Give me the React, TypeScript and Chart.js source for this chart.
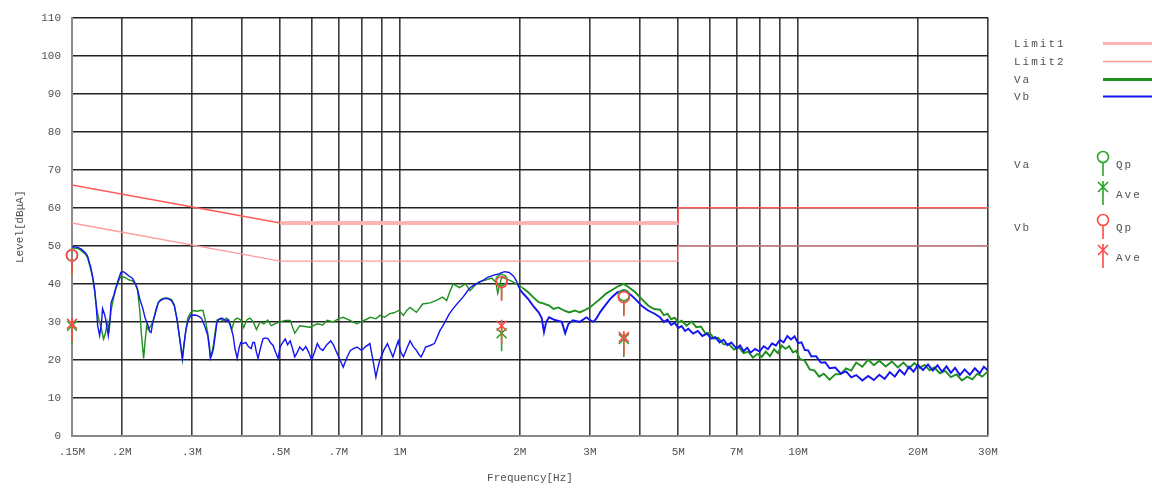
import React, { useEffect, useRef } from 'react';
import { Chart, registerables } from 'chart.js';

Chart.register(...registerables);

// ---------- axis ticks ----------
const xTickValues = [0.15, 0.2, 0.3, 0.4, 0.5, 0.6, 0.7, 0.8, 0.9, 1, 2, 3, 4, 5, 6, 7, 8, 9, 10, 20, 30];
const xTickLabels = ['.15M', '.2M', '.3M', '', '.5M', '', '.7M', '', '', '1M', '2M', '3M', '', '5M', '', '7M', '', '', '10M', '20M', '30M'];
const yMin = 0;
const yMax = 110;
const yStep = 10;

// ---------- limit lines ----------
const limit1Freq = [0.15, 0.5, 5, 5, 30];
const limit1Level = [66, 56, 56, 60, 60];
const limit2Freq = [0.15, 0.5, 5, 5, 30];
const limit2Level = [56, 46, 46, 50, 50];

// ---------- measured traces ----------
const vbFreq = [
  0.15, 0.155, 0.158, 0.162, 0.164, 0.167, 0.169, 0.171, 0.172, 0.174, 0.176, 0.178, 0.179, 0.181, 0.182, 0.184,
  0.185, 0.187, 0.188, 0.191, 0.193, 0.196, 0.199, 0.202, 0.205, 0.209, 0.213, 0.216, 0.219, 0.222, 0.226, 0.229,
  0.233, 0.235, 0.237, 0.239, 0.241, 0.244, 0.247, 0.25, 0.254, 0.258, 0.263, 0.267, 0.271, 0.275, 0.279, 0.282,
  0.284, 0.287, 0.29, 0.293, 0.298, 0.304, 0.309, 0.313, 0.317, 0.323, 0.329, 0.332, 0.334, 0.337, 0.34, 0.344,
  0.347, 0.352, 0.357, 0.363, 0.37, 0.375, 0.381, 0.385, 0.39, 0.394, 0.398, 0.404, 0.41, 0.416, 0.423, 0.427,
  0.431, 0.436, 0.44, 0.446, 0.453, 0.46, 0.466, 0.473, 0.48, 0.487, 0.494, 0.5, 0.508, 0.515, 0.522, 0.53,
  0.537, 0.544, 0.552, 0.56, 0.57, 0.58, 0.59, 0.6, 0.61, 0.62, 0.63, 0.64, 0.655, 0.67, 0.68, 0.69,
  0.7, 0.71, 0.72, 0.735, 0.75, 0.765, 0.78, 0.8, 0.82, 0.84, 0.855, 0.87, 0.88, 0.89, 0.91, 0.93,
  0.945, 0.96, 0.975, 0.99, 1.005, 1.02, 1.04, 1.06, 1.08, 1.1, 1.115, 1.13, 1.145, 1.16, 1.19, 1.22,
  1.24, 1.26, 1.29, 1.33, 1.36, 1.39, 1.44, 1.47, 1.5, 1.54, 1.58, 1.62, 1.66, 1.72, 1.77, 1.83,
  1.88, 1.93, 1.96, 2.0, 2.05, 2.1, 2.16, 2.23, 2.27, 2.3, 2.33, 2.37, 2.45, 2.55, 2.6, 2.65,
  2.72, 2.83, 2.94, 3.0, 3.06, 3.12, 3.18, 3.27, 3.37, 3.45, 3.52, 3.65, 3.73, 3.81, 3.92, 4.04,
  4.2, 4.35,
  4.5, 4.6, 4.7, 4.8, 4.9, 5.0, 5.1, 5.2, 5.3, 5.45, 5.6, 5.75, 5.9, 6.05, 6.2, 6.35,
  6.5, 6.65, 6.8, 7.0, 7.15, 7.3, 7.45, 7.6, 7.8, 8.0, 8.2, 8.4, 8.6, 8.8, 9.0, 9.2,
  9.4, 9.6, 9.8, 10.0, 10.2, 10.4, 10.6, 10.8, 11.1, 11.4, 11.7, 12.0, 12.4, 12.8, 13.2, 13.6,
  14.0, 14.5, 15.0, 15.5, 16.0, 16.5, 17.0, 17.5, 18.0, 18.5, 19.0, 19.5, 20.0, 20.6, 21.2, 21.8,
  22.4, 23.0, 23.6, 24.2, 24.8, 25.5, 26.2, 27.0, 27.8, 28.6, 29.3, 30.0,
];
const vbLevel = [
  49.8, 49.6, 49.2, 48.2, 47.4, 44.5, 42, 38.5, 36, 29, 26.4, 30, 33.5, 32, 31, 28,
  26.4, 31, 35, 37, 38.7, 41, 43, 43.2, 42.7, 42, 41.4, 40.2, 38.7, 36, 33.5, 31,
  29, 27.5, 27.2, 29.5, 31, 33, 35, 35.6, 36, 36.2, 36, 35.5, 34.3, 31, 26.4, 23,
  20.4, 24.6, 28, 30, 31.7, 31.8, 31.7, 31.4, 31, 29, 26.4, 23, 20.4, 21.5, 23, 27,
  30, 30.8, 31, 30.5, 30.4, 29, 26.4, 23, 20.4, 23, 24.6, 24.3, 24.6, 23.5, 23, 24.6,
  24.6, 22, 20.4, 23, 25.6, 25.8, 25.6, 24.5, 23.8, 22, 20.4, 23.5, 24.6, 25.5, 24, 25,
  23, 20.8, 22, 23.4, 22.5, 23.5, 22, 20, 22, 24.3, 23, 22.5, 24, 25, 24, 22.5,
  21, 19.5, 18.1, 20.5, 22.5, 23, 23.4, 22.5, 23.5, 24.3, 20, 15.5, 18, 20, 22.5, 24.3,
  22.5, 20.8, 23, 25, 22, 20.8, 23, 25, 23.5, 22.5, 21.5, 20.8, 22, 23.4, 23.8, 24.3,
  26, 27.7, 29.5, 32.1, 33.5, 34.7, 36.5, 37.8, 39, 39.8, 40.4, 41, 41.7, 42.3, 42.6, 43.2,
  43, 42, 40.8, 38.5, 37.2, 36, 34.2, 32.5, 31, 27.3, 30, 31.2, 30.5, 30, 27, 29.5,
  30.4, 30, 31.2, 30.5, 30, 31, 32.5, 34.2, 36, 37, 37.8, 38.2, 37.8, 37, 35.8, 34.3,
  33, 32.2,
  31.2, 30.0, 30.6, 29.2, 29.8, 28.4, 28.9, 27.6, 28.2, 26.9, 27.6, 26.3, 26.9, 25.6, 26.0, 24.6,
  25.3, 23.9, 24.6, 23.0, 23.8, 22.3, 23.2, 21.9, 22.9, 22.2, 23.6, 22.8, 24.3, 23.8, 25.3, 24.6,
  26.3, 25.4, 26.2, 24.4, 24.6, 22.6, 22.5, 20.9, 21.0, 19.3, 19.4, 17.8, 18.0, 16.4, 17.0, 15.4,
  16.0, 14.6, 15.8, 14.7, 16.1, 15.0, 16.8, 15.6, 17.4, 16.2, 18.2, 16.9, 18.7, 17.3, 18.8, 17.2,
  18.6, 16.9, 18.3, 16.6, 17.9, 16.0, 17.5, 16.1, 17.8, 16.5, 18.2, 17.2,
];

const vaFreq = [
  0.15, 0.155, 0.158, 0.162, 0.164, 0.167, 0.169, 0.171, 0.172, 0.174, 0.176, 0.178, 0.18, 0.182, 0.184, 0.186,
  0.188, 0.191, 0.193, 0.196, 0.199, 0.202, 0.205, 0.209, 0.213, 0.216, 0.219, 0.222, 0.224, 0.227, 0.229, 0.231,
  0.233, 0.237, 0.241, 0.244, 0.247, 0.25, 0.254, 0.258, 0.263, 0.267, 0.271, 0.275, 0.279, 0.282, 0.284, 0.287,
  0.29, 0.293, 0.298, 0.303, 0.309, 0.315, 0.32, 0.325, 0.329, 0.332, 0.334, 0.337, 0.34, 0.344, 0.347, 0.354,
  0.36, 0.366, 0.372, 0.378, 0.384, 0.39, 0.398, 0.405, 0.412, 0.42, 0.428, 0.436, 0.445, 0.455, 0.465, 0.475,
  0.485, 0.5, 0.515, 0.53, 0.544, 0.56, 0.577, 0.594, 0.62, 0.64, 0.656, 0.68, 0.7, 0.72, 0.749, 0.778,
  0.81, 0.843, 0.87, 0.891, 0.915, 0.94, 0.965, 0.993, 1.02, 1.04, 1.06, 1.1, 1.14, 1.19, 1.23, 1.28,
  1.31, 1.335, 1.36, 1.41, 1.46, 1.5, 1.54, 1.58, 1.64, 1.7, 1.74, 1.76, 1.8, 1.85, 1.9, 1.96,
  2.03, 2.1, 2.16, 2.23, 2.3, 2.37, 2.43, 2.5, 2.58, 2.66, 2.75, 2.83, 2.9, 3.0, 3.08, 3.18,
  3.3, 3.45, 3.55, 3.65, 3.77, 3.9, 4.05, 4.2, 4.35,
  4.5, 4.6, 4.7, 4.8, 4.9, 5.0, 5.1, 5.25, 5.4, 5.55, 5.7, 5.85, 6.0, 6.15, 6.3, 6.5,
  6.7, 6.9, 7.1, 7.3, 7.5, 7.7, 7.9, 8.1, 8.3, 8.5, 8.7, 8.9, 9.1, 9.3, 9.5, 9.7,
  9.9, 10.1, 10.4, 10.7, 11.0, 11.3, 11.6, 12.0, 12.4, 12.8, 13.2, 13.6, 14.0, 14.5, 15.0, 15.5,
  16.0, 16.6, 17.2, 17.8, 18.4, 19.0, 19.6, 20.2, 20.8, 21.4, 22.0, 22.7, 23.4, 24.2, 25.0, 25.8,
  26.6, 27.4, 28.2, 29.0, 30.0,
];
const vaLevel = [
  49.5, 49.3, 48.8, 47.8, 47, 44, 41.5, 38, 35.5, 32, 30, 28, 25.5, 27, 30, 28,
  33, 36.5, 38.5, 40.5, 42, 41.8, 41.5, 41, 40.8, 40, 38.5, 33, 27, 20.4, 25, 29,
  28, 29, 31, 33.5, 35, 35.8, 36.2, 36.3, 36.2, 35.8, 34.5, 31, 26.4, 22.5, 20, 24,
  28, 31, 32.5, 33, 32.8, 33, 33, 30, 27, 24, 21, 22, 24, 28, 30.5, 30.8,
  30.2, 31, 30.5, 28, 30.5, 31, 30.5, 28.5, 30.5, 31, 30, 28, 30, 29.5, 30.5, 29,
  29.5, 30, 30.4, 30.4, 27, 29, 28.8, 28.6, 29.5, 29.2, 30.4, 30, 30.8, 31.2, 30.4, 29.5,
  30.3, 31.2, 30.8, 31.7, 31.2, 32.1, 32.4, 33, 31.7, 33, 33.8, 32.5, 34.7, 35, 35.6, 36.5,
  35.6, 38, 40, 39, 40, 38.2, 39.5, 40.5, 41, 41.5, 40.5, 37.5, 41.7, 41.3, 40.8, 40,
  39, 37.8, 36.5, 35.2, 34.8, 34.3, 33.4, 33.8, 33, 32.5, 33, 32.5, 33, 33.8, 34.8, 36,
  37.5, 38.7, 39.5, 40, 39, 37.8, 36, 34.3, 33.4,
  33.2, 31.8, 32.1, 30.7, 31.1, 29.8, 30.3, 29.0, 30.1, 28.6, 28.8, 27.0, 27.1, 25.6, 25.8, 24.1,
  24.2, 22.7, 23.3, 21.8, 22.2, 20.6, 21.6, 20.8, 22.2, 21.0, 22.8, 21.8, 23.8, 22.9, 23.6, 22.0,
  22.4, 20.3, 19.8, 17.5, 17.2, 15.6, 16.4, 14.8, 16.2, 16.3, 17.8, 17.2, 19.3, 18.2, 20.1, 18.6,
  19.8, 18.3, 19.6, 18.0, 19.3, 17.8, 19.2, 17.9, 18.7, 17.3, 18.0, 16.5, 17.1, 15.5, 16.2, 14.6,
  15.6, 14.9, 16.4, 15.6, 17.0,
];

// ---------- final measurement markers ----------
const markerFreq = [0.15, 1.8, 3.65];
const vaQp = [47.5, 41, 37];
const vaAve = [29, 27, 25.5];
const vbQp = [47.5, 40.5, 36.5];
const vbAve = [29.5, 29, 26];

// ---------- legend ----------
const legendLabels = ['Limit1', 'Limit2', 'Va', 'Vb'];
const markerLegendGroups = ['Va', 'Vb'];
const markerLegendKinds = ['Qp', 'Ave'];

const GREEN = '#1f8f1f';
const BLUE = '#1414f0';
const LIMIT1 = '#ff5a5a';
const LIMIT1_FLAT = '#ffb4b4';
const LIMIT2 = '#ff9c9c';
const MK_GREEN = '#2aa52a';
const MK_RED = '#ff4a4a';
const TEXT = '#505050';
const MONO = "'Liberation Mono', 'DejaVu Sans Mono', monospace";

const zip = (fs: number[], ls: number[]) => fs.map((f, i) => ({ x: f, y: ls[i] }));

function drawGlyph(ctx: CanvasRenderingContext2D, kind: string, x: number, y: number, color: string) {
  ctx.save();
  ctx.strokeStyle = color;
  ctx.lineWidth = 1.6;
  ctx.beginPath();
  if (kind === 'Qp') {
    ctx.arc(x, y, 5.5, 0, Math.PI * 2);
    ctx.moveTo(x, y + 5.5);
    ctx.lineTo(x, y + 19);
  } else {
    ctx.moveTo(x - 5, y - 5);
    ctx.lineTo(x + 5, y + 5);
    ctx.moveTo(x + 5, y - 5);
    ctx.lineTo(x - 5, y + 5);
    ctx.moveTo(x, y - 6);
    ctx.lineTo(x, y + 18);
  }
  ctx.stroke();
  ctx.restore();
}

const markerPlugin = {
  id: 'emiMarkers',
  afterDatasetsDraw(chart: any) {
    const { ctx, scales } = chart;
    const sx = scales.x;
    const sy = scales.y;
    const groups = [
      { qp: vaQp, ave: vaAve, color: MK_GREEN },
      { qp: vbQp, ave: vbAve, color: MK_RED },
    ];
    groups.forEach((g) => {
      markerFreq.forEach((f, i) => {
        const px = sx.getPixelForValue(f);
        drawGlyph(ctx, 'Ave', px, sy.getPixelForValue(g.ave[i]), g.color);
        drawGlyph(ctx, 'Qp', px, sy.getPixelForValue(g.qp[i]), g.color);
      });
    });
  },
};

const legendPlugin = {
  id: 'emiLegend',
  afterDraw(chart: any) {
    const ctx: CanvasRenderingContext2D = chart.ctx;
    ctx.save();
    ctx.font = `11px ${MONO}`;
    (ctx as any).letterSpacing = '2px';
    ctx.fillStyle = TEXT;
    ctx.textBaseline = 'middle';
    ctx.textAlign = 'left';
    const rowY = [44, 62, 80, 97];
    const lineStyle = [
      { c: LIMIT1_FLAT, w: 3 },
      { c: LIMIT2, w: 1.5 },
      { c: GREEN, w: 3 },
      { c: BLUE, w: 2 },
    ];
    legendLabels.forEach((lab, i) => {
      ctx.fillText(lab, 1014, rowY[i]);
      ctx.strokeStyle = lineStyle[i].c;
      ctx.lineWidth = lineStyle[i].w;
      ctx.beginPath();
      ctx.moveTo(1103, rowY[i] - 0.5);
      ctx.lineTo(1152, rowY[i] - 0.5);
      ctx.stroke();
    });
    const groupY = [157, 220];
    const colors = [MK_GREEN, MK_RED];
    markerLegendGroups.forEach((g, gi) => {
      const y0 = groupY[gi];
      ctx.fillStyle = TEXT;
      ctx.fillText(g, 1014, y0 + 8);
      markerLegendKinds.forEach((k, ki) => {
        const gy = y0 + ki * 30;
        drawGlyph(ctx, k, 1103, gy, colors[gi]);
        ctx.fillStyle = TEXT;
        ctx.fillText(k, 1116, gy + 8);
      });
    });
    ctx.restore();
  },
};

export default function App() {
  const canvasRef = useRef<HTMLCanvasElement | null>(null);

  useEffect(() => {
    document.body.style.margin = '0';
    const canvas = canvasRef.current;
    if (!canvas) return;

    const flat = (ctx: any) => ctx.p0.parsed.y === 56 && ctx.p1.parsed.y === 56;
    const traceWidth = (ctx: any) => (ctx.p0.parsed.x >= 2 ? 1.9 : 1.4);

    const chart = new Chart(canvas, {
      type: 'line',
      data: {
        datasets: [
          {
            label: 'Vb',
            data: zip(vbFreq, vbLevel),
            borderColor: BLUE,
            borderWidth: 1.4,
            pointRadius: 0,
            tension: 0,
            segment: { borderWidth: traceWidth },
          },
          {
            label: 'Va',
            data: zip(vaFreq, vaLevel),
            borderColor: GREEN,
            borderWidth: 1.4,
            pointRadius: 0,
            tension: 0,
            segment: { borderWidth: traceWidth },
          },
          {
            label: 'Limit1',
            data: zip(limit1Freq, limit1Level),
            borderColor: LIMIT1,
            borderWidth: 1.5,
            pointRadius: 0,
            tension: 0,
            segment: {
              borderColor: (c: any) => (flat(c) ? LIMIT1_FLAT : LIMIT1),
              borderWidth: (c: any) => (flat(c) ? 4 : 1.5),
            },
          },
          {
            label: 'Limit2',
            data: zip(limit2Freq, limit2Level),
            borderColor: LIMIT2,
            borderWidth: 1.3,
            pointRadius: 0,
            tension: 0,
          },
        ],
      },
      options: {
        animation: false,
        responsive: true,
        maintainAspectRatio: false,
        events: [],
        layout: { padding: { left: 0, right: 164, top: 16, bottom: 0 } },
        plugins: { legend: { display: false }, tooltip: { enabled: false } },
        scales: {
          x: {
            type: 'logarithmic',
            min: 0.15,
            max: 30,
            afterBuildTicks: (s: any) => {
              s.ticks = xTickValues.map((v) => ({ value: v }));
            },
            afterFit: (s: any) => {
              s.height = 52;
            },
            ticks: {
              autoSkip: false,
              maxRotation: 0,
              padding: 9,
              color: TEXT,
              font: { family: MONO, size: 11 },
              callback: (_v: any, i: number) => xTickLabels[i] ?? '',
            },
            grid: { color: '#3c3c3c', lineWidth: 1.6, drawTicks: false },
            border: { color: '#8a8a8a', width: 2 },
            title: {
              display: true,
              text: 'Frequency[Hz]',
              color: TEXT,
              font: { family: MONO, size: 11 },
              padding: { top: 0, bottom: 3 },
            },
          },
          y: {
            type: 'linear',
            min: yMin,
            max: yMax,
            afterFit: (s: any) => {
              s.width = 72;
            },
            ticks: {
              stepSize: yStep,
              padding: 11,
              color: TEXT,
              font: { family: MONO, size: 11 },
            },
            grid: { color: '#222222', lineWidth: 1.6, drawTicks: false },
            border: { color: '#8a8a8a', width: 2 },
            title: {
              display: true,
              text: 'Level[dBμA]',
              color: TEXT,
              font: { family: MONO, size: 11 },
              padding: { top: 13, bottom: 0 },
            },
          },
        },
      },
      plugins: [markerPlugin, legendPlugin],
    } as any);

    return () => chart.destroy();
  }, []);

  return (
    <div style={{ width: 1152, height: 488, position: 'relative' }}>
      <canvas ref={canvasRef} />
    </div>
  );
}
